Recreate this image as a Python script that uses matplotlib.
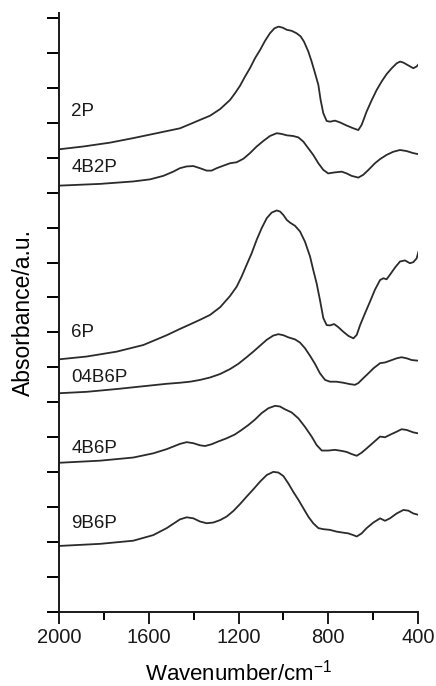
import matplotlib.pyplot as plt
from matplotlib.ticker import MultipleLocator

plt.rcParams['font.family'] = ['Liberation Sans', 'DejaVu Sans']
plt.rcParams['mathtext.fontset'] = 'custom'
plt.rcParams['mathtext.rm'] = 'Liberation Sans'

# Spectra (wavenumber in cm-1, absorbance in tick units, already offset)
wn_2p = [2000, 1892, 1773, 1669, 1565, 1461, 1416, 1372, 1327, 1282, 1238, 1216, 1193, 1171, 1149, 1126,
         1104, 1082, 1060, 1040, 1022, 1003, 985, 963, 941, 923, 908, 889, 874, 859, 844, 834, 822, 807,
         792, 770, 748, 718, 688, 666, 651, 629, 606, 584, 562, 540, 517, 495, 480, 465, 443, 421, 406, 398]
a_2p = [13.24, 13.32, 13.43, 13.56, 13.70, 13.84, 13.96, 14.08, 14.20, 14.39, 14.65, 14.84, 15.06, 15.32,
        15.56, 15.85, 16.08, 16.34, 16.56, 16.70, 16.75, 16.72, 16.66, 16.63, 16.56, 16.47, 16.32, 16.04,
        15.75, 15.42, 15.08, 14.65, 14.27, 14.05, 14.03, 14.06, 14.01, 13.92, 13.84, 13.79, 13.94, 14.32,
        14.65, 14.94, 15.18, 15.39, 15.56, 15.70, 15.75, 15.72, 15.64, 15.56, 15.61, 15.67]

wn_4b2p = [2000, 1817, 1669, 1594, 1535, 1491, 1461, 1431, 1401, 1372, 1342, 1320, 1297, 1268, 1238, 1208,
           1178, 1149, 1119, 1089, 1060, 1030, 1008, 985, 956, 933, 911, 889, 867, 844, 822, 800, 770, 740,
           718, 696, 666, 644, 621, 592, 569, 540, 510, 480, 451, 421, 398]
a_4b2p = [12.20, 12.25, 12.32, 12.38, 12.48, 12.60, 12.70, 12.75, 12.76, 12.70, 12.63, 12.63, 12.70, 12.77,
          12.84, 12.87, 12.97, 13.13, 13.32, 13.48, 13.62, 13.70, 13.68, 13.64, 13.62, 13.58, 13.46, 13.27,
          13.08, 12.84, 12.65, 12.55, 12.58, 12.60, 12.55, 12.48, 12.43, 12.51, 12.65, 12.84, 12.96, 13.08,
          13.17, 13.22, 13.19, 13.13, 13.10]

wn_6p = [2000, 1877, 1743, 1624, 1520, 1461, 1416, 1372, 1327, 1282, 1238, 1208, 1186, 1164, 1141, 1119,
         1097, 1074, 1052, 1030, 1015, 1000, 985, 970, 948, 926, 904, 881, 867, 852, 837, 822, 807, 792,
         774, 755, 733, 710, 688, 673, 658, 636, 614, 592, 569, 554, 540, 525, 502, 480, 458, 436, 421,
         406, 398]
a_6p = [7.23, 7.31, 7.45, 7.64, 7.92, 8.10, 8.23, 8.36, 8.50, 8.72, 9.04, 9.31, 9.60, 9.93, 10.27, 10.65,
        10.98, 11.27, 11.43, 11.49, 11.46, 11.36, 11.22, 11.14, 11.05, 10.89, 10.60, 10.17, 9.79, 9.41,
        8.93, 8.41, 8.21, 8.20, 8.24, 8.15, 8.02, 7.90, 7.83, 7.93, 8.21, 8.55, 8.88, 9.22, 9.50, 9.55,
        9.52, 9.65, 9.86, 10.03, 10.06, 9.98, 10.01, 10.12, 10.31]

wn_04b6p = [2000, 1877, 1743, 1624, 1520, 1461, 1416, 1372, 1327, 1282, 1238, 1201, 1164, 1134, 1104, 1074,
            1045, 1022, 1000, 978, 948, 926, 904, 881, 859, 837, 814, 792, 763, 733, 703, 681, 666, 644,
            621, 599, 569, 547, 525, 495, 473, 451, 428, 398]
a_04b6p = [6.26, 6.30, 6.38, 6.46, 6.53, 6.56, 6.59, 6.64, 6.71, 6.81, 6.95, 7.10, 7.29, 7.45, 7.62, 7.79,
           7.91, 7.95, 7.92, 7.86, 7.80, 7.71, 7.55, 7.33, 7.10, 6.83, 6.64, 6.59, 6.59, 6.56, 6.52, 6.50,
           6.55, 6.69, 6.83, 6.97, 7.12, 7.14, 7.19, 7.26, 7.29, 7.26, 7.21, 7.19]

wn_4b6p = [2000, 1817, 1669, 1580, 1520, 1461, 1431, 1401, 1372, 1349, 1320, 1290, 1253, 1216, 1186, 1156,
           1126, 1097, 1067, 1037, 1015, 993, 963, 933, 904, 874, 852, 829, 800, 770, 740, 718, 696, 673,
           651, 629, 599, 569, 547, 525, 495, 473, 451, 421, 398]
a_4b6p = [4.27, 4.33, 4.42, 4.54, 4.66, 4.81, 4.86, 4.83, 4.77, 4.75, 4.80, 4.88, 4.97, 5.08, 5.21, 5.35,
          5.51, 5.69, 5.83, 5.90, 5.88, 5.80, 5.71, 5.54, 5.30, 5.02, 4.78, 4.62, 4.62, 4.64, 4.61, 4.58,
          4.52, 4.47, 4.56, 4.68, 4.85, 5.02, 5.00, 5.07, 5.16, 5.23, 5.21, 5.14, 5.11]

wn_9b6p = [2000, 1817, 1669, 1580, 1520, 1461, 1431, 1401, 1372, 1342, 1312, 1282, 1253, 1223, 1193, 1164,
           1134, 1104, 1074, 1045, 1022, 1000, 978, 956, 933, 911, 889, 867, 844, 822, 792, 763, 733, 711,
           688, 673, 651, 629, 599, 569, 547, 525, 495, 465, 443, 421, 398]
a_9b6p = [1.89, 1.95, 2.04, 2.20, 2.40, 2.65, 2.71, 2.68, 2.59, 2.54, 2.56, 2.63, 2.73, 2.89, 3.09, 3.30,
          3.51, 3.73, 3.92, 4.01, 3.99, 3.89, 3.68, 3.44, 3.21, 2.97, 2.73, 2.54, 2.40, 2.37, 2.35, 2.30,
          2.27, 2.25, 2.20, 2.16, 2.25, 2.40, 2.56, 2.68, 2.61, 2.68, 2.82, 2.92, 2.90, 2.82, 2.78]

names = ['2P', '4B2P', '6P', '04B6P', '4B6P', '9B6P']
label_y = [14.33, 12.71, 8.01, 6.70, 4.69, 2.52]
xticks = [2000, 1600, 1200, 800, 400]

spectra = [(wn_2p, a_2p), (wn_4b2p, a_4b2p), (wn_6p, a_6p),
           (wn_04b6p, a_04b6p), (wn_4b6p, a_4b6p), (wn_9b6p, a_9b6p)]

fig = plt.figure(figsize=(4.36, 6.86), dpi=100)
ax = fig.add_axes([59 / 436, 74 / 686, 359 / 436, 599 / 686])

line_color = '#2b2b2b'
for (wn, a), name, ly in zip(spectra, names, label_y):
    ax.plot(wn, a, color=line_color, lw=1.3, solid_joinstyle='round')
    ax.text(1945, ly, name, fontsize=13.5, color='#1a1a1a', va='center', ha='left')

ax.set_xlim(2000, 400)
ax.set_ylim(0, 17.14)
ax.set_xticks(xticks)
ax.xaxis.set_minor_locator(MultipleLocator(200))
ax.yaxis.set_major_locator(MultipleLocator(1))
ax.set_yticklabels([])

for side in ['top', 'right']:
    ax.spines[side].set_visible(False)
for side in ['left', 'bottom']:
    ax.spines[side].set_linewidth(1.4)
    ax.spines[side].set_color('#1a1a1a')

ax.tick_params(axis='x', which='major', direction='out', length=8.5, width=1.4, labelsize=14.5, pad=3,
               colors='#1a1a1a')
ax.tick_params(axis='x', which='minor', direction='out', length=5.5, width=1.4)
ax.tick_params(axis='y', which='major', direction='out', length=8.5, width=1.4)

ax.set_xlabel('Wavenumber/cm$^{-1}$', fontsize=16, labelpad=9)
ax.set_ylabel('Absorbance/a.u.', fontsize=16.5, labelpad=5)

fig.savefig('out.png', dpi=100)
